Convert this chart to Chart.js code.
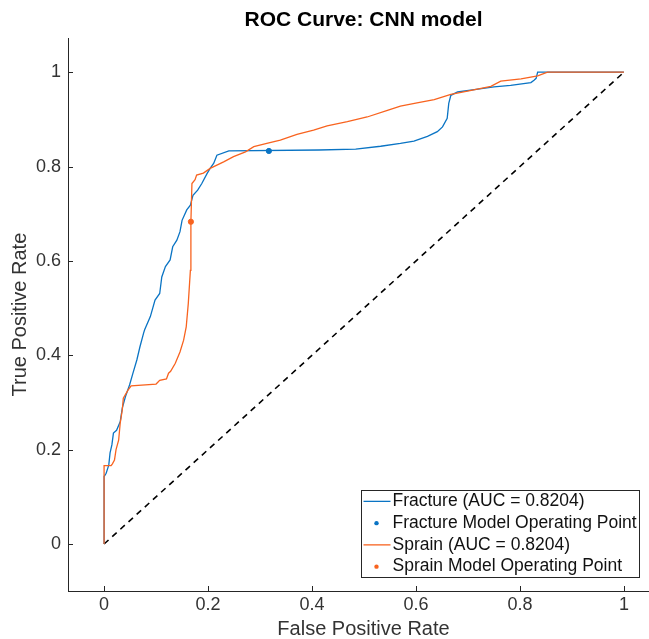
<!DOCTYPE html>
<html>
<head>
<meta charset="utf-8">
<script src="https://cdn.jsdelivr.net/npm/chart.js@4"></script>
<style>
  html, body { margin: 0; padding: 0; background: #fff; overflow: hidden; }
  #wrap { width: 664px; height: 639px; }
</style>
</head>
<body>
<div id="wrap"><canvas id="roc" width="664" height="639"></canvas></div>
<script>
// values
const fractureFPR = [0, 0, 0.004, 0.009, 0.0115, 0.015, 0.018, 0.024, 0.031, 0.035, 0.041, 0.049, 0.055, 0.063, 0.069, 0.076, 0.078, 0.089, 0.098, 0.107, 0.111, 0.118, 0.127, 0.132, 0.14, 0.146, 0.15, 0.159, 0.166, 0.171, 0.18, 0.188, 0.198, 0.204, 0.211, 0.217, 0.24, 0.413, 0.484, 0.532, 0.57, 0.596, 0.622, 0.641, 0.651, 0.66, 0.663, 0.667, 0.68, 0.712, 0.75, 0.782, 0.821, 0.827, 0.831, 0.834, 1];
const fractureTPR = [0, 0.143, 0.15, 0.167, 0.193, 0.21, 0.235, 0.241, 0.259, 0.288, 0.312, 0.337, 0.36, 0.39, 0.418, 0.447, 0.454, 0.482, 0.517, 0.531, 0.566, 0.588, 0.602, 0.63, 0.644, 0.662, 0.686, 0.708, 0.718, 0.739, 0.75, 0.764, 0.785, 0.796, 0.807, 0.824, 0.833, 0.835, 0.837, 0.843, 0.849, 0.854, 0.864, 0.874, 0.884, 0.902, 0.934, 0.951, 0.958, 0.963, 0.969, 0.972, 0.978, 0.983, 0.987, 1, 1];

const sprainFPR = [0, 0, 0.0135, 0.016, 0.02, 0.023, 0.028, 0.031, 0.035, 0.037, 0.046, 0.052, 0.1, 0.107, 0.12, 0.124, 0.128, 0.137, 0.146, 0.153, 0.158, 0.162, 0.166, 0.167, 0.169, 0.175, 0.178, 0.191, 0.204, 0.23, 0.249, 0.272, 0.288, 0.313, 0.339, 0.371, 0.403, 0.429, 0.468, 0.506, 0.545, 0.57, 0.602, 0.635, 0.667, 0.699, 0.744, 0.763, 0.802, 0.834, 0.853, 1];
const sprainTPR = [0, 0.166, 0.166, 0.17, 0.178, 0.2, 0.22, 0.256, 0.284, 0.309, 0.326, 0.335, 0.339, 0.347, 0.35, 0.362, 0.366, 0.383, 0.407, 0.432, 0.46, 0.51, 0.58, 0.683, 0.764, 0.772, 0.782, 0.786, 0.796, 0.81, 0.821, 0.831, 0.842, 0.849, 0.856, 0.868, 0.877, 0.886, 0.895, 0.905, 0.919, 0.928, 0.935, 0.942, 0.953, 0.96, 0.97, 0.981, 0.986, 0.992, 1, 1];

const fractureOpFPR = [0.317];
const fractureOpTPR = [0.833];
const sprainOpFPR = [0.167];
const sprainOpTPR = [0.683];

const chanceFPR = [0, 1];
const chanceTPR = [0, 1];

const seriesLabels = [
  "Fracture (AUC = 0.8204)",
  "Fracture Model Operating Point",
  "Sprain (AUC = 0.8204)",
  "Sprain Model Operating Point"
];
const xTicks = [0, 0.2, 0.4, 0.6, 0.8, 1];
const yTicks = [0, 0.2, 0.4, 0.6, 0.8, 1];

const BLUE = "#0a74c4";
const ORANGE = "#f8631f";
const AXIS = "#262626";
const FONT = "'Liberation Sans', Arial, sans-serif";

const toPoints = (xs, ys) => xs.map((x, i) => ({ x, y: ys[i] }));
const fmt = v => String(Math.round(v * 10) / 10);

// MATLAB style ticks that point into the axes
const innerTicks = {
  id: "innerTicks",
  afterDraw(chart) {
    const { ctx, chartArea, scales } = chart;
    ctx.save();
    ctx.strokeStyle = AXIS;
    ctx.lineWidth = 1;
    ctx.beginPath();
    xTicks.forEach(v => {
      const px = Math.round(scales.x.getPixelForValue(v)) + 0.5;
      ctx.moveTo(px, chartArea.bottom);
      ctx.lineTo(px, chartArea.bottom - 5);
    });
    yTicks.forEach(v => {
      const py = Math.round(scales.y.getPixelForValue(v)) + 0.5;
      ctx.moveTo(chartArea.left, py);
      ctx.lineTo(chartArea.left + 5, py);
    });
    ctx.stroke();
    ctx.restore();
  }
};

// boxed legend in the lower right corner
const boxLegend = {
  id: "boxLegend",
  afterDraw(chart) {
    const ctx = chart.ctx;
    const left = 361.5, top = 490.5, w = 278, h = 87;
    const rowH = h / seriesLabels.length;
    const colors = [BLUE, BLUE, ORANGE, ORANGE];
    ctx.save();
    ctx.fillStyle = "#fff";
    ctx.fillRect(left, top, w, h);
    ctx.strokeStyle = AXIS;
    ctx.lineWidth = 1;
    ctx.strokeRect(left, top, w, h);
    ctx.font = "17.5px " + FONT;
    ctx.textBaseline = "middle";
    seriesLabels.forEach((label, i) => {
      const cy = top + rowH * (i + 0.5);
      if (i % 2 === 0) {
        ctx.strokeStyle = colors[i];
        ctx.lineWidth = 1.3;
        ctx.beginPath();
        ctx.moveTo(left + 2, cy);
        ctx.lineTo(left + 29, cy);
        ctx.stroke();
      } else {
        ctx.fillStyle = colors[i];
        ctx.beginPath();
        ctx.arc(left + 15, cy, 2.2, 0, Math.PI * 2);
        ctx.fill();
      }
      ctx.fillStyle = "#111";
      ctx.fillText(label, left + 31, cy);
    });
    ctx.restore();
  }
};

new Chart(document.getElementById("roc").getContext("2d"), {
  type: "scatter",
  data: {
    datasets: [
      {
        data: toPoints(fractureOpFPR, fractureOpTPR),
        backgroundColor: BLUE, borderColor: BLUE,
        pointRadius: 2.6, showLine: false, order: 0
      },
      {
        data: toPoints(sprainOpFPR, sprainOpTPR),
        backgroundColor: ORANGE, borderColor: ORANGE,
        pointRadius: 2.6, showLine: false, order: 0
      },
      {
        data: toPoints(sprainFPR, sprainTPR),
        borderColor: ORANGE, borderWidth: 1.3,
        showLine: true, pointRadius: 0, tension: 0, order: 1
      },
      {
        data: toPoints(fractureFPR, fractureTPR),
        borderColor: BLUE, borderWidth: 1.3,
        showLine: true, pointRadius: 0, tension: 0, order: 2
      },
      {
        data: toPoints(chanceFPR, chanceTPR),
        borderColor: "#000", borderWidth: 1.6, borderDash: [6, 5],
        showLine: true, pointRadius: 0, order: 3
      }
    ]
  },
  options: {
    responsive: false,
    animation: false,
    devicePixelRatio: 1,
    layout: { padding: 0 },
    plugins: {
      legend: { display: false },
      tooltip: { enabled: false },
      title: {
        display: true,
        text: "ROC Curve: CNN model",
        color: "#000",
        fullSize: false,
        font: { family: FONT, size: 21, weight: "bold", lineHeight: 1.2 },
        padding: { top: 8, bottom: 5 }
      }
    },
    scales: {
      x: {
        type: "linear",
        min: -0.0694,
        max: 1.0674,
        afterBuildTicks: s => { s.ticks = xTicks.map(v => ({ value: v })); },
        afterFit: s => { s.height = 48; },
        grid: { drawOnChartArea: false, drawTicks: false },
        border: { display: true, color: AXIS, width: 1 },
        ticks: {
          padding: 3,
          color: "#333",
          font: { family: FONT, size: 18 },
          callback: v => fmt(v)
        },
        title: {
          display: true,
          text: "False Positive Rate",
          color: "#333",
          font: { family: FONT, size: 20, lineHeight: 1 },
          padding: { top: 0, bottom: 0 }
        }
      },
      y: {
        type: "linear",
        min: -0.0996,
        max: 1.072,
        afterBuildTicks: s => { s.ticks = yTicks.map(v => ({ value: v })); },
        afterFit: s => { s.width = 68; },
        grid: { drawOnChartArea: false, drawTicks: false },
        border: { display: true, color: AXIS, width: 1 },
        ticks: {
          padding: 7,
          color: "#333",
          font: { family: FONT, size: 18 },
          callback: v => fmt(v)
        },
        title: {
          display: true,
          text: "True Positive Rate",
          color: "#333",
          font: { family: FONT, size: 20, lineHeight: 1 },
          padding: { top: 10, bottom: 0 }
        }
      }
    }
  },
  plugins: [innerTicks, boxLegend]
});
</script>
</body>
</html>
